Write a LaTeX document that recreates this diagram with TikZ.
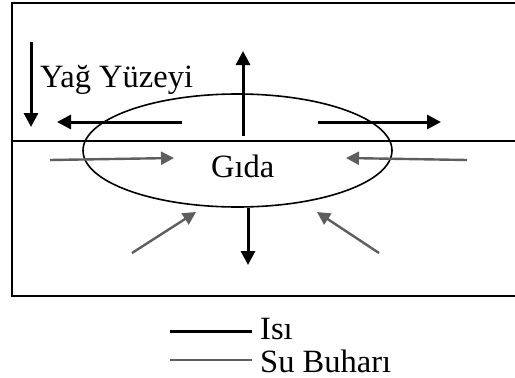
\documentclass[tikz,border=0pt]{standalone}
\usepackage{fontspec}
\setmainfont{Liberation Serif}
\usetikzlibrary{arrows.meta,shapes.geometric}
\definecolor{vapour}{HTML}{5E5E5E}
\tikzset{
  heat/.style={line width=3pt,black,-{Triangle[length=14pt,width=14pt]}},
  vap/.style={line width=2.4pt,vapour,-{Triangle[length=13pt,width=13pt]}},
  lbl/.style={inner sep=0pt,anchor=base west,font=\fontsize{32.5}{38}\selectfont}
}
\begin{document}
\begin{tikzpicture}[x=1pt,y=-1pt]
\useasboundingbox (0,0) rectangle (515,378);
% container
\draw[line width=2.8pt] (520,3) -- (12,3) -- (12,296) -- (520,296);
\draw[line width=1.6pt] (12,141) -- (520,141);
% food ellipse
\node[draw,ellipse,line width=1.6pt,minimum width=309pt,minimum height=113pt,inner sep=0pt] (food) at (237.5,150.5) {};
\node[lbl] (gida) at (211,177) {Gıda};
\node[lbl] (yag) at (40,87) {Yağ Yüzeyi};
% heat arrows
\coordinate (h1a) at (31,42);  \coordinate (h1b) at (31,127);
\coordinate (h2a) at (182,122); \coordinate (h2b) at (57,122);
\coordinate (h3a) at (243,136); \coordinate (h3b) at (243,51);
\coordinate (h4a) at (318,122); \coordinate (h4b) at (441,122);
\coordinate (h5b) at (248,265);
\draw[heat] (h1a) -- (h1b);
\draw[heat] (h2a) -- (h2b);
\draw[heat] (h3a) -- (h3b);
\draw[heat] (h4a) -- (h4b);
\draw[heat] (food.south -| h5b) -- (h5b);
% vapour arrows
\coordinate (v1a) at (50,160);  \coordinate (v1b) at (174,158);
\coordinate (v2a) at (467,160); \coordinate (v2b) at (346,158);
\coordinate (v3a) at (132,253); \coordinate (v3b) at (196,212);
\coordinate (v4a) at (379,253); \coordinate (v4b) at (317,212);
\draw[vap] (v1a) -- (v1b);
\draw[vap] (v2a) -- (v2b);
\draw[vap] (v3a) -- (v3b);
\draw[vap] (v4a) -- (v4b);
% legend
\node[lbl] (isi) at (260,339) {Isı};
\node[lbl] (su) at (260,372) {Su Buharı};
\coordinate (l1) at (170,331); \coordinate (l2) at (170,360);
\draw[line width=3pt] (l1) -- ([xshift=-8pt]l1 -| isi.west);
\draw[line width=2.6pt,vapour] (l2) -- ([xshift=-8pt]l2 -| su.west);
\end{tikzpicture}
\end{document}
